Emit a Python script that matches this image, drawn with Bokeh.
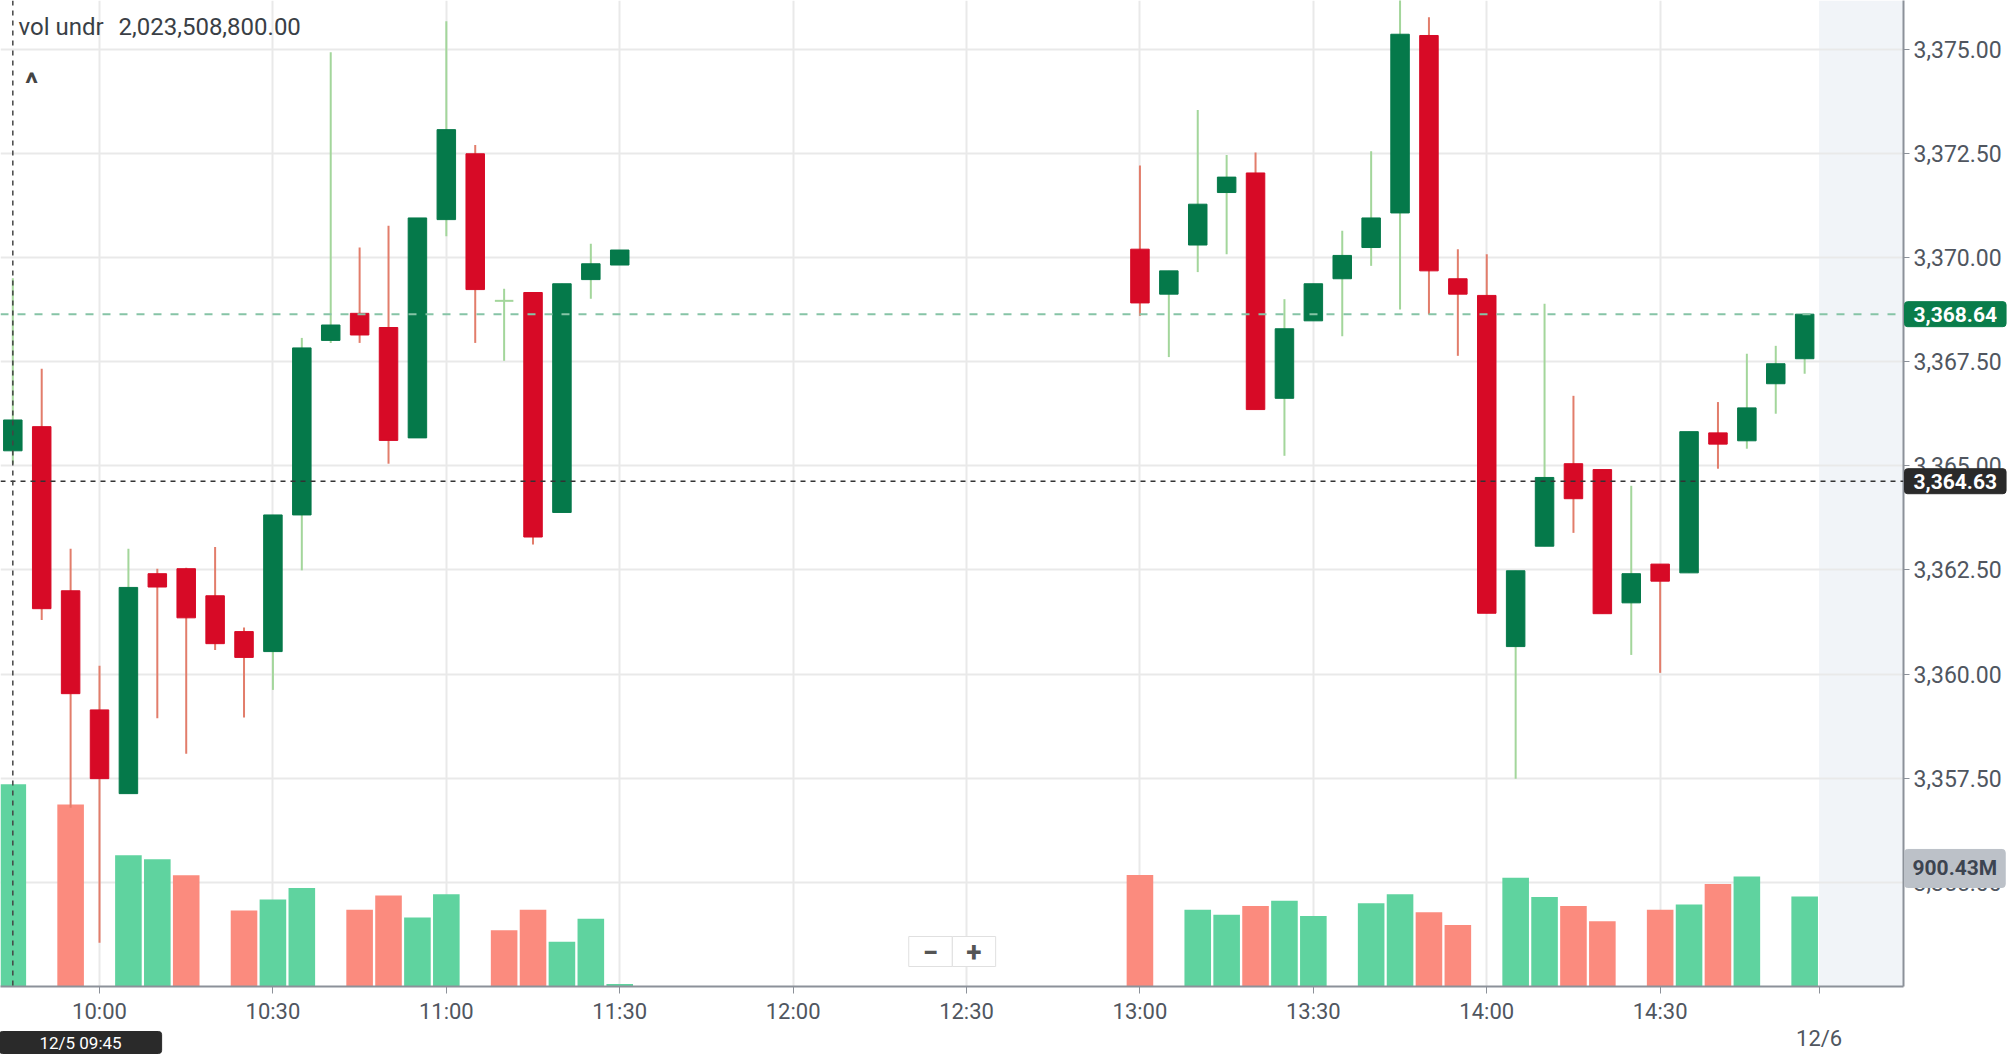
import math
from bokeh.plotting import figure
from bokeh.models import (Range1d, FixedTicker, NumeralTickFormatter, Span, Label,
                          BoxAnnotation, ColumnDataSource)
from bokeh.embed import file_html
from bokeh.resources import INLINE

# ---------------- data ----------------
times = ["09:45", "09:50", "09:55", "10:00", "10:05", "10:10", "10:15", "10:20", "10:25", "10:30",
         "10:35", "10:40", "10:45", "10:50", "10:55", "11:00", "11:05", "11:10", "11:15", "11:20",
         "11:25", "11:30",
         "13:00", "13:05", "13:10", "13:15", "13:20", "13:25", "13:30", "13:35", "13:40", "13:45",
         "13:50", "13:55", "14:00", "14:05", "14:10", "14:15", "14:20", "14:25", "14:30", "14:35",
         "14:40", "14:45", "14:50", "14:55"]

opens = [3365.36, 3365.94, 3362.00, 3359.14, 3357.13, 3362.41, 3362.53, 3361.88, 3361.02, 3360.54,
         3363.82, 3368.01, 3368.66, 3368.32, 3365.67, 3370.91, 3372.49, 3368.96, 3369.16, 3363.88,
         3369.47, 3369.82,
         3370.20, 3369.12, 3370.30, 3371.56, 3372.03, 3366.62, 3368.48, 3369.49, 3370.24, 3371.07,
         3375.33, 3369.49, 3369.09, 3360.66, 3363.07, 3365.05, 3364.91, 3361.71, 3362.64, 3362.43,
         3365.79, 3365.60, 3366.97, 3367.57]

highs = [3369.50, 3367.33, 3363.01, 3360.20, 3363.01, 3362.53, 3362.55, 3363.05, 3361.12, 3363.82,
         3368.07, 3374.93, 3370.24, 3370.76, 3370.95, 3375.67, 3372.70, 3369.25, 3369.16, 3369.37,
         3370.33, 3370.18,
         3372.21, 3369.68, 3373.54, 3372.46, 3372.52, 3369.00, 3369.37, 3370.64, 3372.55, 3376.20,
         3375.77, 3370.20, 3370.08, 3362.48, 3368.89, 3366.68, 3364.91, 3364.52, 3362.64, 3365.82,
         3366.53, 3367.69, 3367.88, 3368.64]

lows = [3365.05, 3361.30, 3356.79, 3353.55, 3357.13, 3358.94, 3358.09, 3360.58, 3358.96, 3359.62,
        3362.49, 3367.95, 3367.95, 3365.05, 3365.67, 3370.51, 3367.95, 3367.52, 3363.11, 3363.88,
        3369.01, 3369.82,
        3368.60, 3367.61, 3369.65, 3370.08, 3366.35, 3365.24, 3368.48, 3368.11, 3369.80, 3368.75,
        3368.63, 3367.64, 3361.46, 3357.49, 3363.07, 3363.39, 3361.45, 3360.46, 3360.03, 3362.43,
        3364.93, 3365.41, 3366.25, 3367.21]

closes = [3366.10, 3361.57, 3359.53, 3357.49, 3362.08, 3362.09, 3361.35, 3360.73, 3360.40, 3363.82,
          3367.83, 3368.38, 3368.14, 3365.61, 3370.95, 3373.07, 3369.23, 3368.96, 3363.29, 3369.37,
          3369.85, 3370.18,
          3368.91, 3369.68, 3371.28, 3371.93, 3366.35, 3368.29, 3369.37, 3370.05, 3370.95, 3375.36,
          3369.68, 3369.12, 3361.46, 3362.48, 3364.72, 3364.21, 3361.45, 3362.41, 3362.23, 3365.82,
          3365.52, 3366.39, 3367.45, 3368.64]

# volume in millions (None = no bar)
volumes = [2023.5088, None, 1820, None, 1312, 1272, 1112, None, 761, 870,
           986, None, 768, 909, 691, 922, None, 563, 768, 448,
           678, 26,
           1114, None, 768, 717, 806, 858, 704, None, 832, 922,
           742, 614, None, 1088, 896, 806, 653, None, 768, 819,
           1024, 1101, None, 900.43]

time_tick_labels = ["10:00", "10:30", "11:00", "11:30", "12:00", "12:30",
                    "13:00", "13:30", "14:00", "14:30"]
price_ticks = [3355.0, 3357.5, 3360.0, 3362.5, 3365.0, 3367.5, 3370.0, 3372.5, 3375.0]

session_end = "14:57.5"
next_day_label = "12/6"
crosshair_date = "12/5"
crosshair_time = "09:45"
crosshair_price = 3364.63
vol_title = "vol undr"

# ---------------- styles ----------------
FONT = "Roboto"
BODY_UP, BODY_DN = "#05794a", "#d70a26"
WICK_UP, WICK_DN = "#a3d69b", "#e27d6b"
VOL_UP, VOL_DN = "#5fd39f", "#fb8b7e"
AXIS_C = "#8c9199"
LABEL_C = "#50565f"
BODY_W = 3.2
VOL_W = 4.6

X0, X1 = 582.87, 912.1
Y0, Y1 = 3352.50, 3376.17


def minutes(s):
    h, m = s.split(":")
    return int(h) * 60 + float(m)


def pad(lr, tb):
    # Bokeh 4-tuple padding order: (left, right, top, bottom)
    return (lr, lr, tb, tb)


xs = [minutes(t) for t in times]
n = len(xs)
up = [closes[i] >= opens[i] for i in range(n)]
body_idx = [i for i in range(n) if abs(closes[i] - opens[i]) >= 0.01]
doji_idx = [i for i in range(n) if abs(closes[i] - opens[i]) < 0.01]
vol_up = [up[0]] + [closes[i] >= closes[i - 1] for i in range(1, n)]

wick_src = ColumnDataSource(dict(x=xs, hi=highs, lo=lows,
                                 color=[WICK_UP if u else WICK_DN for u in up]))
body_src = ColumnDataSource(dict(
    x=[xs[i] for i in body_idx],
    top=[max(opens[i], closes[i]) for i in body_idx],
    bottom=[min(opens[i], closes[i]) for i in body_idx],
    color=[BODY_UP if up[i] else BODY_DN for i in body_idx]))
doji_src = ColumnDataSource(dict(
    x0=[xs[i] - BODY_W / 2 for i in doji_idx],
    x1=[xs[i] + BODY_W / 2 for i in doji_idx],
    y=[closes[i] for i in doji_idx]))
vol_src = ColumnDataSource(dict(
    x=xs,
    top=[v if v is not None else float("nan") for v in volumes],
    color=[VOL_UP if u else VOL_DN for u in vol_up]))

tick_x = [minutes(t) for t in time_tick_labels]
end_x = minutes(session_end)

p = figure(frame_width=1903, frame_height=986,
           x_range=Range1d(X0, X1), y_range=Range1d(Y0, Y1),
           output_backend="svg", toolbar_location=None, y_axis_location="right",
           min_border_left=0, min_border_top=0, min_border_right=105, min_border_bottom=66,
           outline_line_color=None, background_fill_color="white", border_fill_color="white")
p.extra_y_ranges = {"vol": Range1d(0, 9860)}

# future (after close) shading
p.add_layout(BoxAnnotation(left=end_x, fill_color="#f1f4f8", fill_alpha=1.0,
                           line_color=None, level="image"))

# grids
p.xgrid.ticker = FixedTicker(ticks=tick_x)
for g in (p.xgrid[0], p.ygrid[0]):
    g.grid_line_color = "#e9e9e9"
    g.grid_line_width = 2

# volume
p.vbar(x="x", width=VOL_W, top="top", bottom=0, y_range_name="vol", source=vol_src,
       fill_color="color", line_color=None)
# candles
p.segment(x0="x", y0="lo", x1="x", y1="hi", line_color="color", line_width=2, source=wick_src)
p.vbar(x="x", width=BODY_W, top="top", bottom="bottom", fill_color="color",
       line_color="color", line_width=1, source=body_src)
p.segment(x0="x0", y0="y", x1="x1", y1="y", line_color=WICK_UP, line_width=2, source=doji_src)

# reference lines
p.add_layout(Span(location=closes[-1], dimension="width", line_color="#86c4a6",
                  line_width=2, line_dash="8 9"))
p.add_layout(Span(location=crosshair_price, dimension="width", line_color="#333333",
                  line_width=1.5, line_dash="5 5"))
p.add_layout(Span(location=minutes(crosshair_time), dimension="height", line_color="#444444",
                  line_width=1.5, line_dash="5 5"))

# axes
ya = p.yaxis[0]
ya.ticker = FixedTicker(ticks=price_ticks)
ya.formatter = NumeralTickFormatter(format="0,0.00")
ya.major_label_text_font = FONT
ya.major_label_text_font_size = "23px"
ya.major_label_text_color = LABEL_C
ya.axis_line_color = AXIS_C
ya.axis_line_width = 2
ya.major_tick_line_color = AXIS_C
ya.major_tick_out = 6
ya.major_tick_in = 0
ya.minor_tick_out = 0
ya.minor_tick_in = 0
ya.major_label_standoff = 4

xa = p.xaxis[0]
xa.ticker = FixedTicker(ticks=tick_x + [end_x])
overrides = {tx: lab for tx, lab in zip(tick_x, time_tick_labels)}
overrides[end_x] = ""
xa.major_label_overrides = overrides
xa.major_label_text_font = FONT
xa.major_label_text_font_size = "22px"
xa.major_label_text_color = LABEL_C
xa.axis_line_color = AXIS_C
xa.axis_line_width = 2
xa.major_tick_line_color = AXIS_C
xa.major_tick_out = 7
xa.major_tick_in = 0
xa.minor_tick_out = 0
xa.minor_tick_in = 0
xa.major_label_standoff = 5

# value tags on the price axis (side panel -> not clipped by the frame)
tag_style = dict(x=X1, x_offset=1, text_font=FONT, text_font_size="21px",
                 text_font_style="bold", text_baseline="middle", text_align="left",
                 border_radius=3)
p.add_layout(Label(y=closes[-1], text=f"{closes[-1]:,.2f}", text_color="white",
                   background_fill_color="#0a7d4b", border_line_color="#0a7d4b",
                   padding=pad(9, 5), **tag_style), "right")
p.add_layout(Label(y=crosshair_price, text=f"{crosshair_price:,.2f}", text_color="white",
                   background_fill_color="#2a2a2a", border_line_color="#2a2a2a",
                   padding=pad(9, 5), **tag_style), "right")
p.add_layout(Label(y=volumes[-1], y_range_name="vol", y_offset=28, text=f"{volumes[-1]:.2f}M",
                   text_color="#3d4450", background_fill_color="#bcc1c8",
                   border_line_color="#bcc1c8", padding=pad(8, 7), **tag_style), "right")

# crosshair time tag and next-day label under the time axis
p.add_layout(Label(x=X0, x_offset=80, y=Y0, y_offset=-56,
                   text=f"{crosshair_date} {crosshair_time}",
                   text_font=FONT, text_font_size="17px", text_color="white",
                   text_baseline="middle", text_align="center",
                   background_fill_color="#2a2a2a", border_line_color="#2a2a2a",
                   padding=pad(40, 1), border_radius=3), "below")
p.add_layout(Label(x=end_x, y=Y0, y_offset=-52, text=next_day_label,
                   text_font=FONT, text_font_size="22px", text_color=LABEL_C,
                   text_baseline="middle", text_align="center"), "below")

# top-left legend
p.add_layout(Label(x=18, x_units="screen", y=960, y_units="screen", text=vol_title,
                   text_font=FONT, text_font_size="24px", text_color="#3a3f46",
                   text_baseline="alphabetic", text_align="left"))
p.add_layout(Label(x=118, x_units="screen", y=960, y_units="screen",
                   text=f"{volumes[0] * 1e6:,.2f}",
                   text_font=FONT, text_font_size="24px", text_color="#3a3f46",
                   text_baseline="alphabetic", text_align="left"))
p.add_layout(Label(x=31, x_units="screen", y=903, y_units="screen", text="^",
                   text_font=FONT, text_font_size="30px", text_font_style="bold",
                   text_color="#444444", text_baseline="middle", text_align="center"))

# zoom buttons
for cx, sym in ((930, "\u2212"), (973.5, "+")):
    p.add_layout(Label(x=cx, x_units="screen", y=35, y_units="screen", text=sym,
                       text_font=FONT, text_font_size="28px", text_font_style="bold",
                       text_color="#555555", text_baseline="middle", text_align="center",
                       background_fill_color="white", border_line_color="#e0e0e0",
                       border_line_width=1, padding=pad(14, 5)))

open("out.html", "w").write(file_html(p, INLINE))
